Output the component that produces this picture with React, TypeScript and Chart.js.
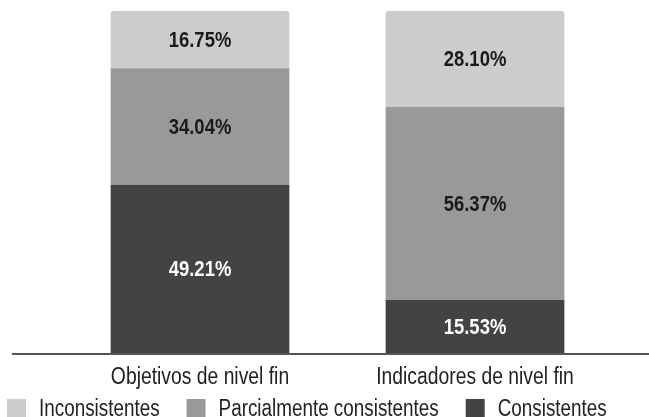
import React, { useEffect, useRef } from "react";
import { Chart, registerables } from "chart.js";

Chart.register(...registerables);

const categories = ["Objetivos de nivel fin", "Indicadores de nivel fin"];
const seriesNames = ["Consistentes", "Parcialmente consistentes", "Inconsistentes"];
const consistentes = [49.21, 15.53];
const parcialmente = [34.04, 56.37];
const inconsistentes = [16.75, 28.1];
const colors = ["#434343", "#999999", "#cccccc"];
const labelColors = ["#ffffff", "#1a1a1a", "#1a1a1a"];
const legendOrder = [2, 1, 0];

const FONT = "'Liberation Sans', Arial, sans-serif";
const SX = 0.84;
const LEGEND_SX = 0.82;

function drawScaledText(ctx: any, text: string, x: number, y: number, align: string, sx: number = SX) {
  ctx.save();
  ctx.translate(x, y);
  ctx.scale(sx, 1);
  ctx.textAlign = align;
  ctx.fillText(text, 0, 0);
  ctx.restore();
}

const dataLabelPlugin = {
  id: "dataLabels",
  afterDatasetsDraw(chart: any) {
    const ctx = chart.ctx;
    ctx.save();
    ctx.font = `bold 22px ${FONT}`;
    ctx.textBaseline = "middle";
    chart.data.datasets.forEach((ds: any, di: number) => {
      const meta = chart.getDatasetMeta(di);
      meta.data.forEach((el: any, i: number) => {
        const v = ds.data[i];
        ctx.fillStyle = labelColors[di];
        drawScaledText(ctx, v.toFixed(2) + "%", el.x, (el.y + el.base) / 2 + 1, "center");
      });
    });
    ctx.restore();
  },
};

const axisPlugin = {
  id: "axisLineAndLabels",
  afterDatasetsDraw(chart: any) {
    const ctx = chart.ctx;
    const y = chart.chartArea.bottom + 1;
    ctx.save();
    ctx.strokeStyle = "#555555";
    ctx.lineWidth = 2;
    ctx.beginPath();
    ctx.moveTo(12, y);
    ctx.lineTo(chart.width, y);
    ctx.stroke();
    const xs = chart.scales.x;
    ctx.font = `23px ${FONT}`;
    ctx.fillStyle = "#222222";
    ctx.textBaseline = "alphabetic";
    chart.data.labels.forEach((lab: string, i: number) => {
      drawScaledText(ctx, lab, xs.getPixelForValue(i), chart.chartArea.bottom + 31, "center");
    });
    ctx.restore();
  },
};

const legendPlugin = {
  id: "customLegend",
  afterDraw(chart: any) {
    const ctx = chart.ctx;
    ctx.save();
    ctx.font = `23px ${FONT}`;
    ctx.textBaseline = "alphabetic";
    let x = 7;
    const boxTop = 399;
    const box = 19;
    legendOrder.forEach((di) => {
      const ds = chart.data.datasets[di];
      ctx.fillStyle = ds.backgroundColor;
      ctx.fillRect(x, boxTop, box, box);
      x += box + 13;
      ctx.fillStyle = "#222222";
      drawScaledText(ctx, ds.label, x, 416, "left", LEGEND_SX);
      x += ctx.measureText(ds.label).width * LEGEND_SX + 27;
    });
    ctx.restore();
  },
};

export default function App() {
  const ref = useRef<HTMLCanvasElement>(null);
  useEffect(() => {
    const chart = new Chart(ref.current!, {
      type: "bar",
      data: {
        labels: categories,
        datasets: [
          { label: seriesNames[0], data: consistentes, backgroundColor: colors[0] },
          { label: seriesNames[1], data: parcialmente, backgroundColor: colors[1] },
          {
            label: seriesNames[2],
            data: inconsistentes,
            backgroundColor: colors[2],
            borderRadius: { topLeft: 3, topRight: 3, bottomLeft: 0, bottomRight: 0 },
          },
        ],
      },
      options: {
        animation: false,
        responsive: true,
        maintainAspectRatio: false,
        layout: { padding: { top: 11, left: 62.5, right: 36.5, bottom: 0 } },
        datasets: { bar: { categoryPercentage: 0.65, barPercentage: 1 } },
        plugins: { legend: { display: false }, tooltip: { enabled: false } },
        scales: {
          x: {
            stacked: true,
            grid: { display: false, drawTicks: false },
            border: { display: false },
            ticks: { display: false },
            afterFit: (scale: any) => {
              scale.height = 64;
            },
          },
          y: {
            stacked: true,
            display: false,
            min: 0,
            max: 100,
          },
        },
      },
      plugins: [dataLabelPlugin, axisPlugin, legendPlugin],
    });
    return () => chart.destroy();
  }, []);
  return (
    <div style={{ position: "fixed", left: 0, top: 0, width: 649, height: 417, background: "#fff" }}>
      <canvas ref={ref} />
    </div>
  );
}
